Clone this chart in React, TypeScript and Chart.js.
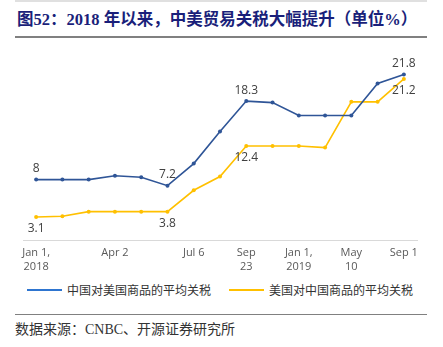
import React, { useEffect, useRef } from "react";
import { Chart, registerables } from "chart.js";

Chart.register(...registerables);

const categories: (string | string[])[] = [
  ["Jan 1,", "2018"], "", "", "Apr 2", "", "", "Jul 6", "", ["Sep", "23"], "", ["Jan 1,", "2019"], "", ["May", "10"], "", "Sep 1",
];
const chinaOnUS = [8, 8, 8, 8.5, 8.3, 7.2, 10.1, 14.3, 18.3, 18.1, 16.4, 16.4, 16.4, 20.6, 21.8];
const usOnChina = [3.1, 3.2, 3.8, 3.8, 3.8, 3.8, 6.6, 8.4, 12.4, 12.4, 12.4, 12.2, 18.2, 18.2, 21.2];
const seriesNames = ["中国对美国商品的平均关税", "美国对中国商品的平均关税"];
const labeledIdx = [0, 5, 8, 14];

const BLUE = "#2F5597";
const YELLOW = "#FFC000";
const LEGEND_BLUE = "#2E75D0";

const labelPlugin = {
  id: "valueLabels",
  afterDatasetsDraw(chart: any) {
    const ctx = chart.ctx;
    ctx.save();
    ctx.font = "12px 'Open Sans', 'Liberation Sans', sans-serif";
    ctx.fillStyle = "#404040";
    ctx.textAlign = "center";
    ctx.textBaseline = "middle";
    chart.data.datasets.forEach((ds: any, di: number) => {
      const meta = chart.getDatasetMeta(di);
      labeledIdx.forEach((i) => {
        const p = meta.data[i];
        const dy = di === 0 ? -11 : 12;
        ctx.fillText(String(ds.data[i]), p.x, p.y + dy);
      });
    });
    ctx.restore();
  },
};

const legendColors = [LEGEND_BLUE, YELLOW];
const legendLeft = [27, 229];

export default function App() {
  const ref = useRef<HTMLCanvasElement>(null);
  useEffect(() => {
    const chart = new Chart(ref.current!, {
      type: "line",
      data: {
        labels: categories,
        datasets: [
          {
            label: seriesNames[0],
            data: chinaOnUS,
            borderColor: BLUE,
            backgroundColor: BLUE,
            borderWidth: 1.6,
            pointRadius: 2,
            pointBackgroundColor: BLUE,
            pointBorderWidth: 0,
            tension: 0,
          },
          {
            label: seriesNames[1],
            data: usOnChina,
            borderColor: YELLOW,
            backgroundColor: YELLOW,
            borderWidth: 1.6,
            pointRadius: 2,
            pointBackgroundColor: YELLOW,
            pointBorderWidth: 0,
            tension: 0,
          },
        ],
      },
      options: {
        animation: false,
        responsive: false,
        maintainAspectRatio: false,
        layout: { padding: { left: 23, right: 26, top: 0, bottom: 0 } },
        plugins: {
          tooltip: { enabled: false },
          legend: { display: false },
        },
        scales: {
          x: {
            offset: true,
            grid: { display: false, drawTicks: false },
            border: { display: true, color: "#D9D9D9" },
            ticks: {
              autoSkip: false,
              maxRotation: 0,
              minRotation: 0,
              padding: 6,
              color: "#595959",
              font: { family: "'Open Sans', sans-serif", size: 11 },
            },
          },
          y: {
            display: false,
            min: 0,
            max: 25,
          },
        },
      },
      plugins: [labelPlugin],
    });
    return () => chart.destroy();
  }, []);

  return (
    <div style={{ position: "fixed", left: 0, top: 0, width: 443, height: 347, background: "#fff", overflow: "hidden" }}>
      <div style={{ position: "absolute", left: 15, right: 16, top: 0, height: 2, background: "#E0E0E0" }} />
      <div
        style={{
          position: "absolute",
          left: 17,
          top: 10,
          fontFamily: "'Liberation Serif', 'Noto Sans CJK SC', serif",
          fontWeight: "bold",
          fontSize: 16.5,
          color: "#1A1F7A",
          whiteSpace: "nowrap",
          lineHeight: "20px",
        }}
      >
        图52：2018 年以来，中美贸易关税大幅提升（单位%）
      </div>
      <div style={{ position: "absolute", left: 15, right: 16, top: 36, height: 2, background: "#808080" }} />
      <canvas ref={ref} width={443} height={233} style={{ position: "absolute", left: 0, top: 46, width: 443, height: 233 }} />
      {seriesNames.map((name, i) => (
        <div key={name}>
          <div style={{ position: "absolute", left: legendLeft[i], top: 289, width: 35, height: 2, background: legendColors[i] }} />
          <div
            style={{
              position: "absolute",
              left: legendLeft[i] + 40,
              top: 281,
              fontFamily: "'Noto Sans CJK SC', sans-serif",
              fontSize: 12,
              lineHeight: "18px",
              color: "#333333",
              whiteSpace: "nowrap",
            }}
          >
            {name}
          </div>
        </div>
      ))}
      <div style={{ position: "absolute", left: 15, right: 16, top: 314, height: 1, background: "#808080" }} />
      <div
        style={{
          position: "absolute",
          left: 15,
          top: 320,
          fontFamily: "'Liberation Serif', 'Noto Sans CJK SC', serif",
          fontSize: 14,
          color: "#333333",
          whiteSpace: "nowrap",
          lineHeight: "20px",
        }}
      >
        数据来源：CNBC、开源证券研究所
      </div>
    </div>
  );
}
